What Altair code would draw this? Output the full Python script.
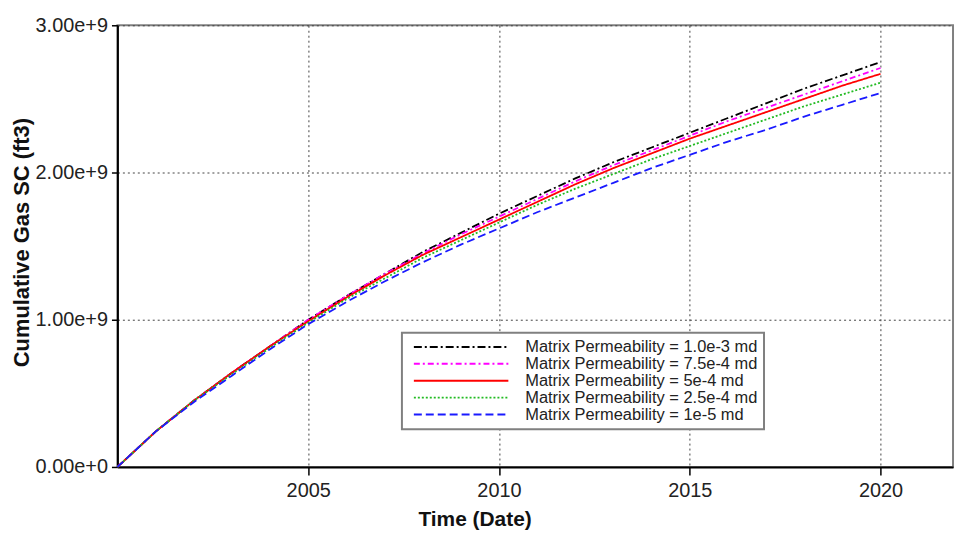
import altair as alt
import pandas as pd

years = list(range(2000, 2021))

series_names = [
    "Matrix Permeability = 1.0e-3 md",
    "Matrix Permeability = 7.5e-4 md",
    "Matrix Permeability = 5e-4 md",
    "Matrix Permeability = 2.5e-4 md",
    "Matrix Permeability = 1e-5 md",
]

# cumulative gas, units of 1e9 ft3, yearly
k_1e3 = [0, 0.24, 0.45, 0.64, 0.82, 1.00, 1.16, 1.31, 1.46, 1.59, 1.72,
         1.84, 1.96, 2.07, 2.17, 2.27, 2.37, 2.47, 2.57, 2.66, 2.75]
k_75e4 = [0, 0.24, 0.45, 0.64, 0.82, 1.00, 1.16, 1.31, 1.45, 1.58, 1.70,
          1.82, 1.94, 2.05, 2.15, 2.25, 2.35, 2.44, 2.53, 2.62, 2.71]
k_5e4 = [0, 0.24, 0.45, 0.64, 0.82, 0.99, 1.15, 1.30, 1.44, 1.56, 1.68,
         1.80, 1.92, 2.03, 2.13, 2.23, 2.32, 2.41, 2.50, 2.59, 2.67]
k_25e4 = [0, 0.24, 0.45, 0.63, 0.81, 0.98, 1.14, 1.28, 1.42, 1.54, 1.66,
          1.78, 1.89, 1.99, 2.09, 2.18, 2.27, 2.36, 2.45, 2.53, 2.61]
k_1e5 = [0, 0.24, 0.44, 0.62, 0.80, 0.97, 1.12, 1.26, 1.39, 1.51, 1.62,
         1.73, 1.83, 1.93, 2.03, 2.12, 2.21, 2.29, 2.38, 2.46, 2.54]

all_series = [k_1e3, k_75e4, k_5e4, k_25e4, k_1e5]
colors = ["#000000", "#ff00ff", "#ff0000", "#22bb22", "#1a1aff"]
dashes = [[8, 3, 2, 3], [6, 3, 2, 3], [1, 0], [2, 2], [8, 4]]

rows = []
for name, vals in zip(series_names, all_series):
    for y, v in zip(years, vals):
        rows.append({"year": y, "gas": v * 1e9, "series": name})
df = pd.DataFrame(rows)

legend = alt.Legend(
    title=None, orient="none", legendX=286, legendY=309,
    symbolType="stroke", symbolSize=9025, symbolStrokeWidth=2,
    symbolOffset=5,
    labelFont="Liberation Sans", labelFontSize=16.5, labelColor="#222222",
    labelLimit=400,
    strokeColor="#808080", fillColor="white", padding=6, rowPadding=0,
    clipHeight=16.6, labelOffset=16,
)

chart = alt.Chart(df).mark_line(strokeWidth=1.8).encode(
    x=alt.X("year:Q", title="Time (Date)",
            scale=alt.Scale(domain=[2000, 2021.9], nice=False, zero=False),
            axis=alt.Axis(values=[2005, 2010, 2015, 2020], format="d",
                          tickSize=8, labelPadding=6, titlePadding=8,
                          titleX=359)),
    y=alt.Y("gas:Q", title="Cumulative Gas SC (ft3)",
            scale=alt.Scale(domain=[0, 3e9], nice=False),
            axis=alt.Axis(values=[0, 1e9, 2e9, 3e9], format=".2e",
                          tickSize=6, labelPadding=4, titlePadding=2,
                          titleY=218, titleFontSize=22)),
    color=alt.Color("series:N", sort=series_names,
                    scale=alt.Scale(domain=series_names, range=colors),
                    legend=legend),
    strokeDash=alt.StrokeDash("series:N", sort=series_names,
                              scale=alt.Scale(domain=series_names, range=dashes),
                              legend=legend),
).properties(
    width=840, height=444,
    autosize=alt.AutoSizeParams(type="none"),
    padding={"left": 110, "top": 16, "right": 3, "bottom": 62},
).configure_view(
    stroke="#808080", strokeWidth=2
).configure_axis(
    domainColor="#000000", domainWidth=2, tickColor="#000000", tickWidth=1.5,
    gridColor="#444444", gridDash=[2, 3], gridWidth=1,
    labelFont="Liberation Sans", labelFontSize=20, labelColor="#222222",
    titleFont="Liberation Sans", titleFontWeight="bold", titleColor="#111111",
    titleFontSize=21,
).configure_legend(
    strokeWidth=2
)

chart.save("out.html", embed_options={"renderer": "svg", "actions": False})
